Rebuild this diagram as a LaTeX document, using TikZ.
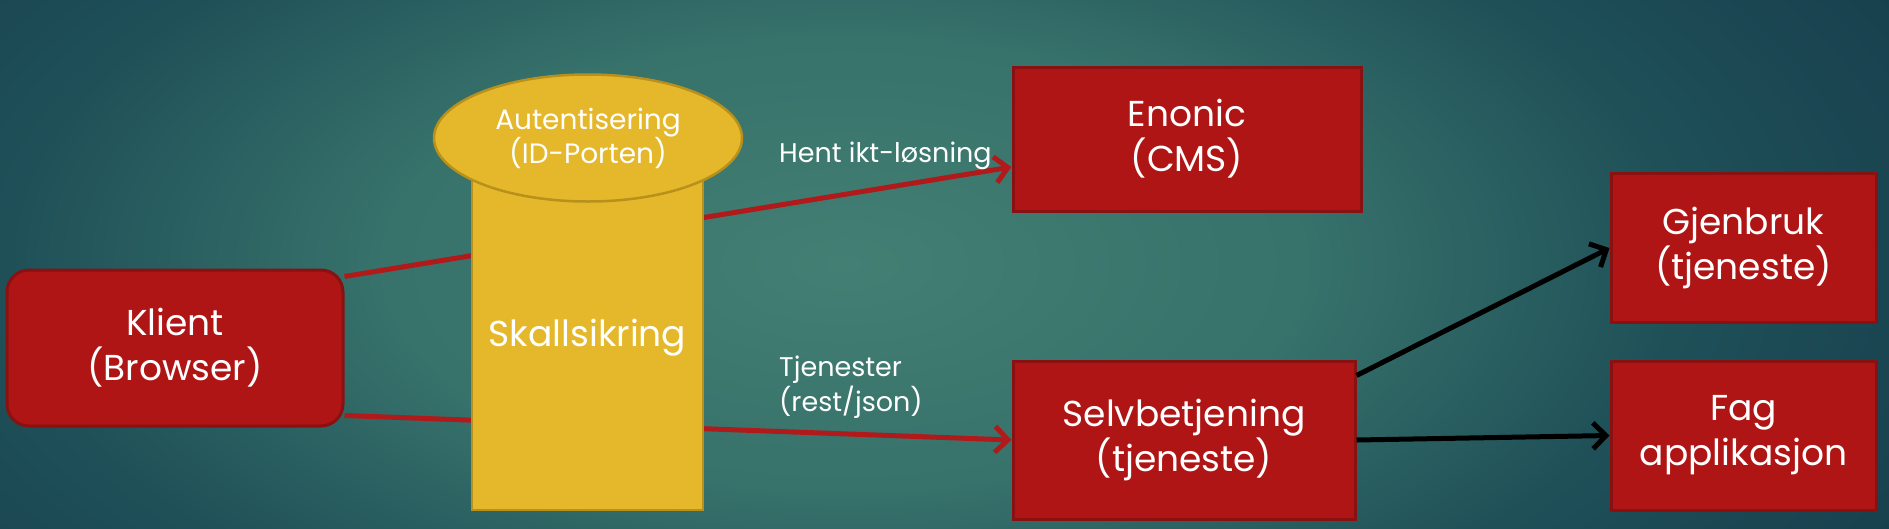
\documentclass[tikz,border=0pt]{standalone}
\usepackage{fontspec}
\setmainfont{Poppins}
\usetikzlibrary{arrows.meta,shapes.geometric}
\definecolor{boxred}{HTML}{AF1515}
\definecolor{boxedge}{HTML}{8A1111}
\definecolor{gold}{HTML}{E5B82B}
\definecolor{goldedge}{HTML}{B8901C}
\definecolor{linered}{HTML}{B01A1A}
\definecolor{bgin}{HTML}{437F73}
\definecolor{bgmid}{HTML}{37726B}
\definecolor{bgout}{HTML}{1F5058}
\definecolor{bgedge}{HTML}{1A4652}
\definecolor{bgcorner}{HTML}{163B48}
\pgfdeclareradialshading{bgglow}{\pgfpoint{0bp}{0bp}}{color(0bp)=(bgin); color(11bp)=(bgmid); color(20bp)=(bgout); color(25bp)=(bgedge); color(32bp)=(bgcorner); color(50bp)=(bgcorner)}
\pgfdeclarelayer{bg}
\pgfdeclarelayer{lines}
\pgfsetlayers{bg,lines,main}
\begin{document}
\begin{tikzpicture}[x=1pt,y=-1pt,
    redbox/.style={draw=boxedge,line width=3pt,fill=boxred,text=white,align=center,inner sep=0pt,font=\fontsize{36}{45}\selectfont},
    skallbox/.style={draw=goldedge,line width=2.5pt,fill=gold,text=white,inner sep=0pt,font=\fontsize{36}{45}\selectfont},
    authoval/.style={ellipse,draw=goldedge,line width=2.5pt,fill=gold,text=white,align=center,inner sep=0pt,font=\fontsize{28}{34}\selectfont},
    edgelabel/.style={text=white,inner sep=0pt,font=\fontsize{27}{35}\selectfont},
    redline/.style={draw=linered,line width=5pt,-{Straight Barb[length=13pt,width=26pt]}},
    blackarrow/.style={draw=black,line width=5pt,-{Straight Barb[length=13pt,width=26pt]}}]
  \begin{pgfonlayer}{bg}
    \clip (0,0) rectangle (1889,528);
    \shade[shading=bgglow] (-200,-250) rectangle (1889,778);
  \end{pgfonlayer}
  \useasboundingbox (0,0) rectangle (1889,528);

  \node[redbox,rounded corners=22pt,minimum width=336pt,minimum height=156pt] (klient) at (175,348) {Klient\\(Browser)};
  \node[skallbox,minimum width=231pt,minimum height=344pt] (skall) at (587.5,338) {Skallsikring};
  \node[authoval,minimum width=308pt,minimum height=127pt] (auth) at (588,138) {Autentisering\\(ID-Porten)};
  \node[redbox,minimum width=348pt,minimum height=144pt] (enonic) at (1187,139) {Enonic\\(CMS)};
  \node[redbox,minimum width=342pt,minimum height=158pt] (selv) at (1184,440) {Selvbetjening\\(tjeneste)};
  \node[redbox,minimum width=265pt,minimum height=149pt] (gjenbruk) at (1743.5,248) {Gjenbruk\\(tjeneste)};
  \node[redbox,minimum width=265pt,minimum height=149pt] (fag) at (1743.5,435.5) {Fag\\applikasjon};

  \node[edgelabel,anchor=base west] (hent) at (779,162) {Hent ikt-løsning};
  \node[edgelabel,align=left,anchor=north west] (tjen) at (779,356) {Tjenester\\(rest/json)};

  \begin{pgfonlayer}{lines}
    \draw[redline] ([yshift=-8pt]klient.north east) -- ([yshift=-28pt]enonic.west);
    \draw[redline] ([yshift=12pt]klient.south east) -- (selv.west);
  \end{pgfonlayer}
  \draw[blackarrow] ([yshift=-16pt]selv.north east) -- (gjenbruk.west);
  \draw[blackarrow] (selv.east) -- (fag.west);
\end{tikzpicture}
\end{document}
